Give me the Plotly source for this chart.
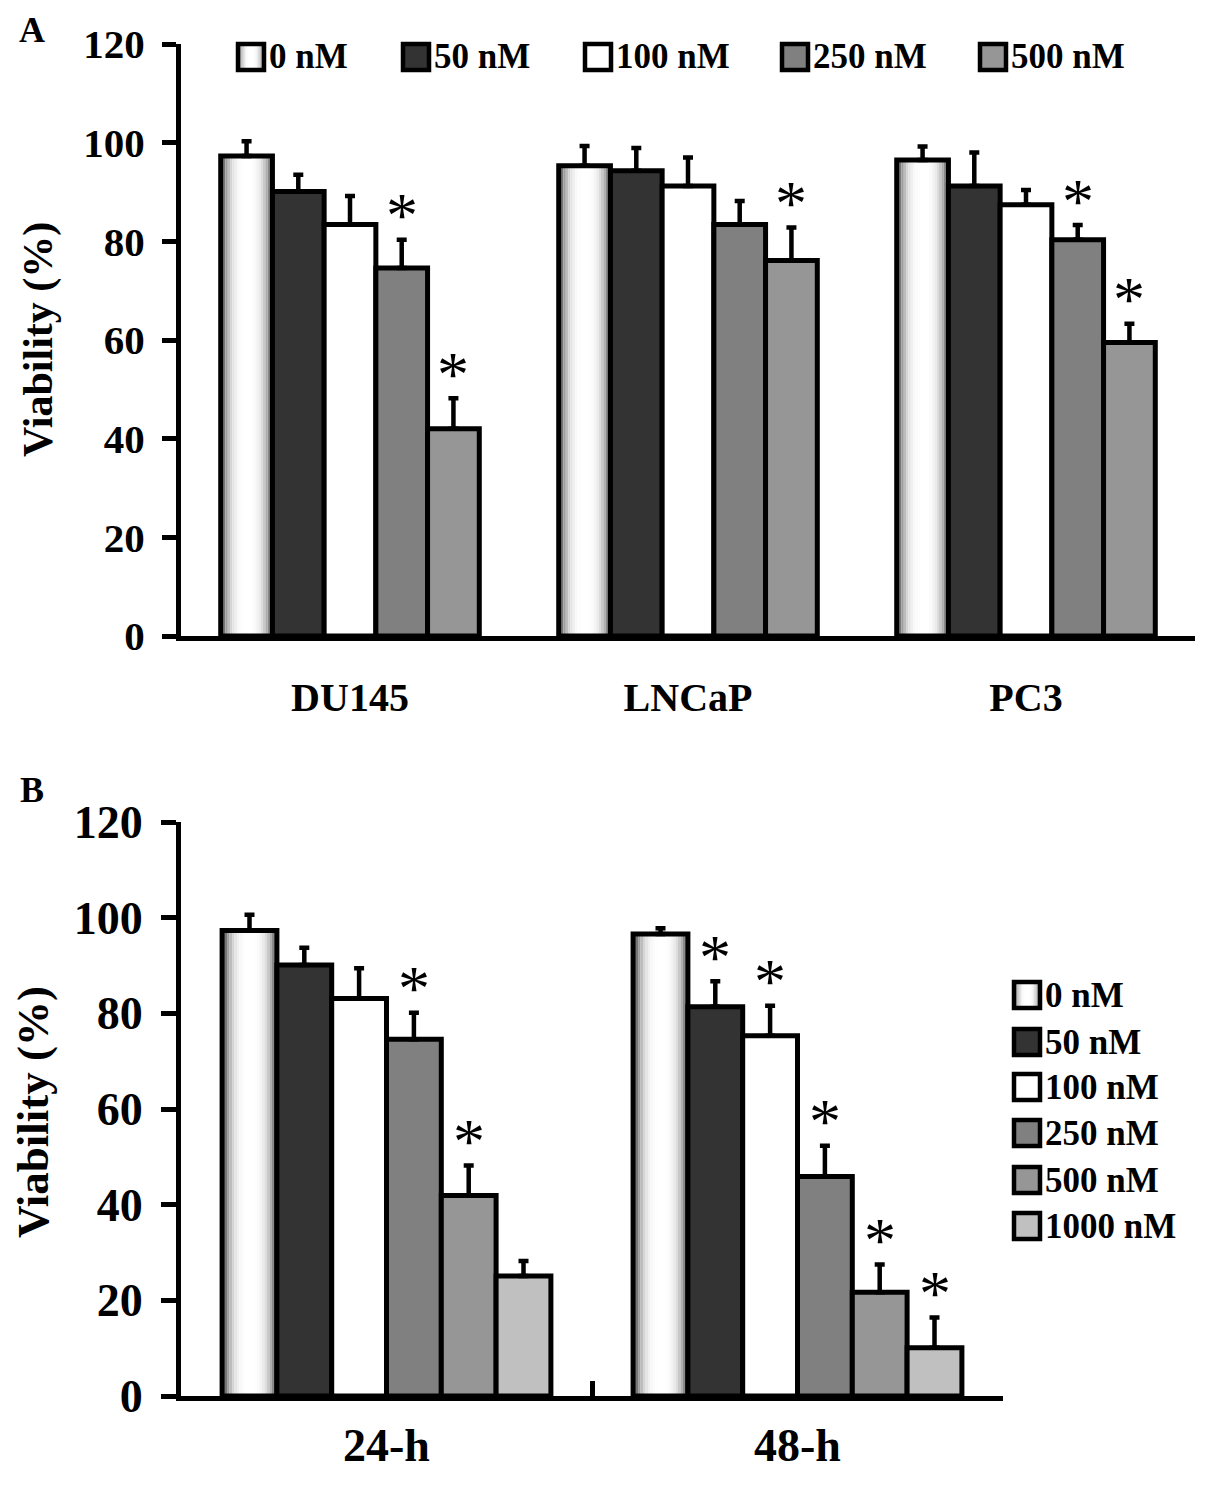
import plotly.graph_objects as go

# ---- Panel A data: viability (%) by cell line ----
cell_lines = ["DU145", "LNCaP", "PC3"]
doses_a = ["0 nM", "50 nM", "100 nM", "250 nM", "500 nM"]
a_0nm = [97.3, 95.3, 96.5]
a_50nm = [90.1, 94.3, 91.2]
a_100nm = [83.4, 91.2, 87.4]
a_250nm = [74.6, 83.4, 80.3]
a_500nm = [42.0, 76.1, 59.5]
a_err_0nm = [3.0, 4.0, 2.7]
a_err_50nm = [3.4, 4.6, 6.8]
a_err_100nm = [5.8, 5.8, 3.0]
a_err_250nm = [5.7, 4.8, 3.0]
a_err_500nm = [6.2, 6.7, 3.8]
a_sig_250nm = [True, False, True]
a_sig_500nm = [True, True, True]

# ---- Panel B data: viability (%) by time ----
times = ["24-h", "48-h"]
doses_b = ["0 nM", "50 nM", "100 nM", "250 nM", "500 nM", "1000 nM"]
b_0nm = [97.3, 96.6]
b_50nm = [90.1, 81.4]
b_100nm = [83.1, 75.3]
b_250nm = [74.6, 45.9]
b_500nm = [41.9, 21.7]
b_1000nm = [25.1, 10.1]
b_err_0nm = [3.3, 1.2]
b_err_50nm = [3.6, 5.3]
b_err_100nm = [6.3, 6.3]
b_err_250nm = [5.5, 6.4]
b_err_500nm = [6.3, 5.8]
b_err_1000nm = [3.1, 6.3]
b_sig_50nm = [False, True]
b_sig_100nm = [False, True]
b_sig_250nm = [True, True]
b_sig_500nm = [True, True]
b_sig_1000nm = [False, True]

W, H = 1205, 1494
PAGE_PAD = 8  # the page puts the figure 8px in from the top-left corner
FONT = "Liberation Serif, Times New Roman, serif"
FILLS = [None, "#333333", "#ffffff", "#808080", "#969696", "#c0c0c0"]
NSLICE = 22
LW = 5


def fx(p):
    return (p - PAGE_PAD) / W


def fy(p):
    return 1 - (p - PAGE_PAD) / H


def gray(t):
    # dark edges, broad white highlight in the middle (cylinder look)
    c = 0.52
    if t < c:
        v = 255 - 215 * ((c - t) / c) ** 3.2
    else:
        v = 255 - 185 * ((t - c) / (1 - c)) ** 3.0
    v = int(round(v))
    return f"rgb({v},{v},{v})"


fig = go.Figure()


def add_panel(cats, values, errors, sigs, xa, ya, group):
    n = len(values)
    w = group / n
    for i in range(n):
        vals, errs, sig = values[i], errors[i], sigs[i]
        off = -group / 2 + i * w
        if i == 0:
            for k in range(NSLICE):
                fig.add_trace(go.Bar(
                    x=cats, y=vals, xaxis=xa, yaxis=ya,
                    offset=off + k * w / NSLICE, width=w / NSLICE,
                    marker=dict(color=gray((k + 0.5) / NSLICE), line=dict(width=0)),
                    showlegend=False, hoverinfo="skip"))
            color = "rgba(0,0,0,0)"
        else:
            color = FILLS[i]
        fig.add_trace(go.Bar(
            x=cats, y=vals, xaxis=xa, yaxis=ya, offset=off, width=w,
            marker=dict(color=color, line=dict(color="black", width=LW)),
            error_y=dict(type="data", array=errs, arrayminus=[0] * len(errs),
                         symmetric=False, color="black", thickness=4.5, width=5),
            showlegend=False))
        if sig is None:
            continue
        for j, flag in enumerate(sig):
            if flag:
                fig.add_annotation(
                    x=j + off + w / 2, y=vals[j] + errs[j], xref=xa, yref=ya,
                    text="*", showarrow=False, xanchor="center", yanchor="middle",
                    yshift=24, font=dict(family=FONT, size=64, color="black"))


add_panel(cell_lines,
          [a_0nm, a_50nm, a_100nm, a_250nm, a_500nm],
          [a_err_0nm, a_err_50nm, a_err_100nm, a_err_250nm, a_err_500nm],
          [None, None, None, a_sig_250nm, a_sig_500nm],
          "x", "y", 0.765)
add_panel(times,
          [b_0nm, b_50nm, b_100nm, b_250nm, b_500nm, b_1000nm],
          [b_err_0nm, b_err_50nm, b_err_100nm, b_err_250nm, b_err_500nm, b_err_1000nm],
          [None, b_sig_50nm, b_sig_100nm, b_sig_250nm, b_sig_500nm, b_sig_1000nm],
          "x2", "y2", 0.80)

# ---- hand-drawn legends (big outlined swatches) ----
shapes = []


def legend_item(x0, yc, size, idx, label, fsize):
    y0, y1 = yc - size / 2, yc + size / 2
    if idx == 0:
        for k in range(NSLICE):
            shapes.append(dict(type="rect", xref="paper", yref="paper",
                               x0=fx(x0 + k * size / NSLICE), x1=fx(x0 + (k + 1) * size / NSLICE),
                               y0=fy(y1), y1=fy(y0), line=dict(width=0),
                               fillcolor=gray((k + 0.5) / NSLICE)))
        fill = "rgba(0,0,0,0)"
    else:
        fill = FILLS[idx]
    shapes.append(dict(type="rect", xref="paper", yref="paper",
                       x0=fx(x0), x1=fx(x0 + size), y0=fy(y1), y1=fy(y0),
                       line=dict(color="black", width=4.5), fillcolor=fill))
    fig.add_annotation(x=fx(x0 + size + 3), y=fy(yc), xref="paper", yref="paper",
                       text=label, showarrow=False, xanchor="left", yanchor="middle",
                       font=dict(family=FONT, size=fsize, color="black", weight="bold"))


for i, (xpos, lab) in enumerate(zip([238, 403, 585, 782, 980], doses_a)):
    legend_item(xpos, 57, 26, i, lab, 35)
for i, (ypos, lab) in enumerate(zip([995, 1042, 1087, 1133, 1180, 1226], doses_b)):
    legend_item(1014, ypos, 26, i, lab, 35)

# panel letters and y titles
for txt, x, y in [("A", 32, 30), ("B", 32, 790)]:
    fig.add_annotation(x=fx(x), y=fy(y), xref="paper", yref="paper", text=txt,
                       showarrow=False, xanchor="center", yanchor="middle",
                       font=dict(family=FONT, size=36, weight="bold"))
for x, y, s in [(38, 340, 42), (33, 1112, 45)]:
    fig.add_annotation(x=fx(x), y=fy(y), xref="paper", yref="paper", text="Viability (%)",
                       textangle=-90, showarrow=False, xanchor="center", yanchor="middle",
                       font=dict(family=FONT, size=s, weight="bold"))

axis_common = dict(showline=True, linecolor="black", linewidth=LW, showgrid=False,
                   zeroline=False)

fig.update_layout(
    width=W, height=H, margin=dict(l=0, r=0, t=0, b=0, pad=0, autoexpand=False),
    paper_bgcolor="white", plot_bgcolor="white",
    barmode="overlay", showlegend=False, shapes=shapes,
    font=dict(family=FONT, color="black"),
    xaxis=dict(domain=[fx(181), fx(1195)], anchor="y", type="category",
               range=[-0.5, 2.5], ticks="", ticklabelstandoff=22,
               tickfont=dict(size=40, weight="bold"), **axis_common),
    yaxis=dict(domain=[fy(636), fy(44)], anchor="x", range=[0, 120], dtick=20,
               ticks="outside", ticklen=14, tickwidth=LW, tickcolor="black",
               ticklabelstandoff=9, tickfont=dict(size=41, weight="bold"), **axis_common),
    xaxis2=dict(domain=[fx(181), fx(1003)], anchor="y2", type="category",
                range=[-0.5, 1.5], ticks="inside", tickson="boundaries", ticklen=15,
                tickwidth=4.5, tickcolor="black", ticklabelstandoff=5,
                tickfont=dict(size=46, weight="bold"), **axis_common),
    yaxis2=dict(domain=[fy(1396), fy(822)], anchor="x2", range=[0, 120], dtick=20,
                ticks="outside", ticklen=15, tickwidth=LW, tickcolor="black",
                ticklabelstandoff=9, tickfont=dict(size=46, weight="bold"), **axis_common),
)

fig.write_html("out.html")
